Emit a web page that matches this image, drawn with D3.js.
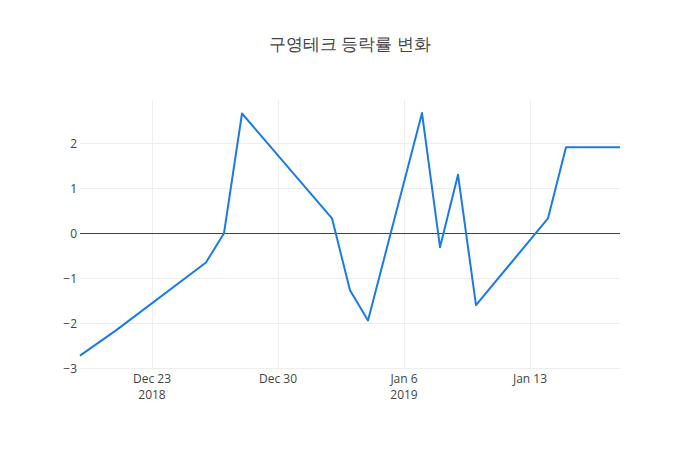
<!DOCTYPE html>
<html>
<head>
<meta charset="utf-8">
<script src="https://cdn.jsdelivr.net/npm/d3@7"></script>
<style>
  body { margin: 0; background: #fff; }
  text { font-family: "Open Sans", "Noto Sans", sans-serif; fill: #444; }
</style>
</head>
<body>
<div id="chart"></div>
<script>
// trading days and daily change (%)
const dates = ["2018-12-19", "2018-12-21", "2018-12-26", "2018-12-27", "2018-12-28",
  "2019-01-02", "2019-01-03", "2019-01-04", "2019-01-07", "2019-01-08", "2019-01-09",
  "2019-01-10", "2019-01-14", "2019-01-15", "2019-01-16", "2019-01-17", "2019-01-18"];
const changes = [-2.72, -2.16, -0.65, 0, 2.66, 0.33, -1.27, -1.94, 2.67, -0.31, 1.3,
  -1.6, 0.33, 1.91, 1.91, 1.91, 1.91];
const yTicks = [-3, -2, -1, 0, 1, 2];
const xTicks = ["2018-12-23", "2018-12-30", "2019-01-06", "2019-01-13"];

var W = 700, H = 450,
    m = { top: 100, right: 80, bottom: 80, left: 80 };

var parse = d3.timeParse("%Y-%m-%d");
var data = dates.map((d, i) => ({ date: parse(d), v: changes[i] }));

var svg = d3.select("#chart").append("svg")
  .attr("width", W).attr("height", H);

var x = d3.scaleTime()
  .domain(d3.extent(data, d => d.date))
  .range([m.left, W - m.right]);

var y = d3.scaleLinear()
  .domain([-3.04, 2.96])
  .range([H - m.bottom, m.top]);

// snap a coordinate to a pixel centre so 1px lines stay sharp
var px = v => Math.round(v) + 0.5;

// grid
svg.append("g").selectAll("line")
  .data(yTicks.filter(t => t !== 0))
  .enter().append("line")
    .attr("x1", m.left).attr("x2", W - m.right)
    .attr("y1", d => px(y(d))).attr("y2", d => px(y(d)))
    .attr("stroke", "#eee");

svg.append("g").selectAll("line")
  .data(xTicks.map(parse))
  .enter().append("line")
    .attr("x1", d => px(x(d))).attr("x2", d => px(x(d)))
    .attr("y1", m.top).attr("y2", H - m.bottom)
    .attr("stroke", "#eee");

// zero line
svg.append("line")
  .attr("x1", m.left).attr("x2", W - m.right)
  .attr("y1", px(y(0))).attr("y2", px(y(0)))
  .attr("stroke", "#444").attr("stroke-width", 1);

// y labels
var yAxis = d3.axisLeft(y).tickValues(yTicks).tickSize(0).tickPadding(3)
  .tickFormat(d => d < 0 ? "\u2212" + Math.abs(d) : d);
svg.append("g")
  .attr("transform", "translate(" + m.left + ",0)")
  .call(yAxis)
  .call(g => g.select(".domain").remove())
  .selectAll("text").style("font-size", "12px").attr("fill", "#444");

// x labels
var fmt = d3.timeFormat("%b %-d");
var xg = svg.append("g").selectAll("text")
  .data(xTicks.map(parse))
  .enter().append("text")
    .attr("x", d => x(d))
    .attr("y", 383)
    .attr("text-anchor", "middle")
    .style("font-size", "12px");
xg.append("tspan").text(d => fmt(d));
xg.filter((d, i) => i === 0 || d.getFullYear() !== parse(xTicks[i - 1]).getFullYear())
  .append("tspan")
    .attr("x", d => x(d)).attr("dy", 16)
    .text(d => d.getFullYear());

// line
var line = d3.line().x(d => x(d.date)).y(d => y(d.v));
svg.append("path")
  .datum(data)
  .attr("d", line)
  .attr("fill", "none")
  .attr("stroke", "#1a7be6")
  .attr("stroke-width", 2)
  .attr("stroke-linejoin", "round");

// title
svg.append("text")
  .attr("x", W / 2).attr("y", 50)
  .attr("text-anchor", "middle")
  .style("font-size", "17px")
  .text("구영테크 등락률 변화");
</script>
</body>
</html>
